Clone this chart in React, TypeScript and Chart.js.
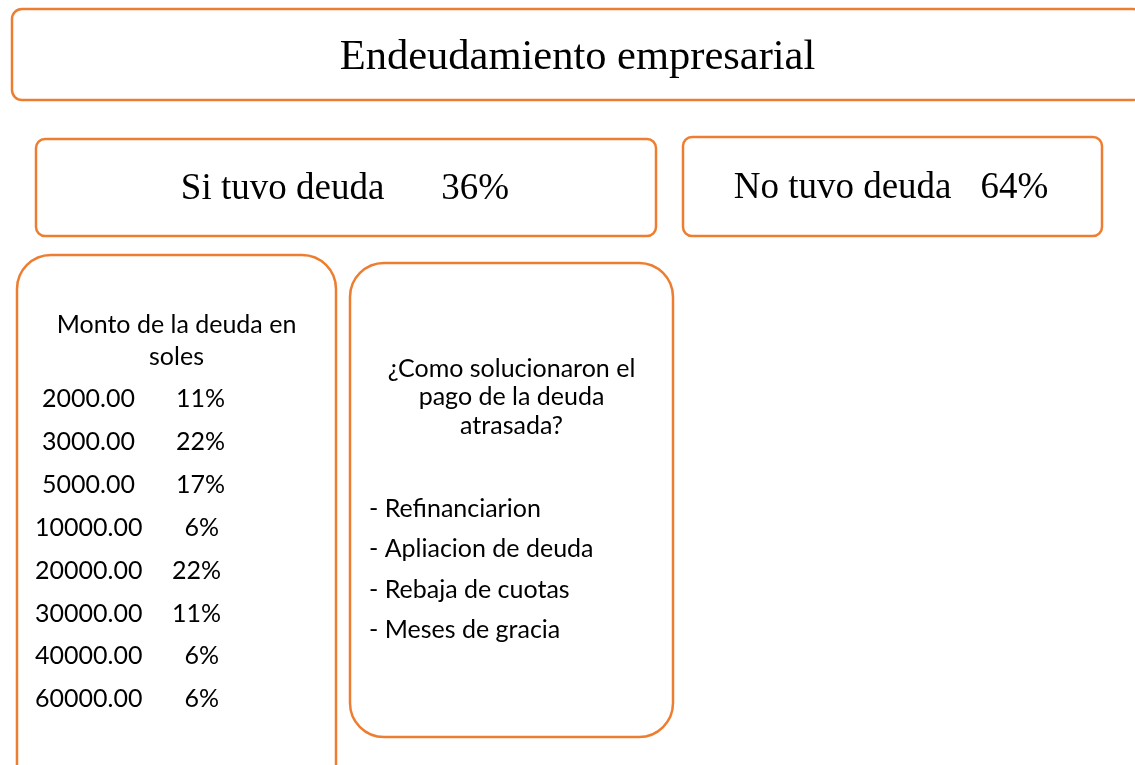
import React, { useEffect, useRef } from "react";
import { Chart, registerables } from "chart.js";

Chart.register(...registerables);

const TITLE = "Endeudamiento empresarial";
const DEBT_LABELS = ["Si tuvo deuda", "No tuvo deuda"];
const DEBT_SHARES = [36, 64];
const AMOUNT_HEADER = ["Monto de la deuda en", "soles"];
const AMOUNTS = [2000, 3000, 5000, 10000, 20000, 30000, 40000, 60000];
const AMOUNT_SHARES = [11, 22, 17, 6, 22, 11, 6, 6];
const SOLUTION_QUESTION = ["¿Como solucionaron el", "pago de la deuda", "atrasada?"];
const SOLUTIONS = ["Refinanciarion", "Apliacion de deuda", "Rebaja de cuotas", "Meses de gracia"];

const W = 1135;
const H = 765;
const ORANGE = "#ED7D31";
const SERIF = "'Liberation Serif', 'Times New Roman', serif";
const SANS = "Lato, 'Noto Sans', sans-serif";

const infographicPlugin = {
  id: "infographic",
  afterDraw(chart: any) {
    const ctx: CanvasRenderingContext2D = chart.ctx;
    const xs = chart.scales.x;
    const ys = chart.scales.y;
    const px = (v: number) => xs.getPixelForValue(v);
    const py = (v: number) => ys.getPixelForValue(v);

    const box = (x0: number, y0: number, x1: number, y1: number, r: number) => {
      ctx.save();
      ctx.beginPath();
      (ctx as any).roundRect(px(x0), py(y0), px(x1) - px(x0), py(y1) - py(y0), r);
      ctx.strokeStyle = ORANGE;
      ctx.lineWidth = 2.5;
      ctx.stroke();
      ctx.restore();
    };

    ctx.save();
    ctx.fillStyle = "#ffffff";
    ctx.fillRect(0, 0, chart.width, chart.height);
    ctx.restore();

    // boxes
    box(12, 9, 1143, 100, 10);
    box(36, 139, 656, 236, 9);
    box(683, 137, 1102, 236, 9);
    box(17, 255, 336, 800, 34);
    box(350, 263, 673, 737, 34);

    ctx.save();
    ctx.fillStyle = "#000000";
    ctx.textBaseline = "alphabetic";

    // title
    ctx.font = `42.5px ${SERIF}`;
    ctx.textAlign = "center";
    ctx.fillText(TITLE, px(577.5), py(69));

    // debt shares
    const pair = (label: string, value: string, cx: number, gap: number, base: number) => {
      ctx.font = `37px ${SERIF}`;
      const wl = ctx.measureText(label).width;
      const wv = ctx.measureText(value).width;
      const total = wl + gap + wv;
      const start = px(cx) - total / 2;
      ctx.textAlign = "left";
      ctx.fillText(label, start, py(base));
      ctx.fillText(value, start + wl + gap, py(base));
    };
    pair(DEBT_LABELS[0], `${DEBT_SHARES[0]}%`, 345, 57, 199);
    pair(DEBT_LABELS[1], `${DEBT_SHARES[1]}%`, 891, 29, 198);

    // amount box
    ctx.font = `25px ${SANS}`;
    ctx.textAlign = "center";
    ctx.fillText(AMOUNT_HEADER[0], px(176.5), py(333));
    ctx.fillText(AMOUNT_HEADER[1], px(176.5), py(365));
    const rowBase = [407, 450, 493, 536, 579, 622, 664, 707];
    AMOUNTS.forEach((a, i) => {
      const big = a >= 10000;
      ctx.textAlign = "left";
      ctx.fillText(a.toFixed(2), px(big ? 35 : 42), py(rowBase[i]));
      ctx.textAlign = "right";
      const pct = AMOUNT_SHARES[i];
      const right = big ? (pct >= 10 ? 221 : 219) : 225;
      ctx.fillText(`${pct}%`, px(right), py(rowBase[i]));
    });

    // solutions box
    ctx.textAlign = "center";
    const qBase = [377, 405, 434];
    SOLUTION_QUESTION.forEach((q, i) => ctx.fillText(q, px(511.5), py(qBase[i])));
    ctx.textAlign = "left";
    const sBase = [517, 557, 598, 638];
    SOLUTIONS.forEach((s, i) => ctx.fillText(`- ${s}`, px(369), py(sBase[i])));

    ctx.restore();
  },
};

export default function App() {
  const ref = useRef<HTMLCanvasElement>(null);
  useEffect(() => {
    document.body.style.margin = "0";
    if (!ref.current) return;
    const chart = new Chart(ref.current, {
      type: "scatter",
      data: { datasets: [{ data: [], showLine: false }] },
      options: {
        responsive: false,
        animation: false,
        layout: { padding: 0 },
        scales: {
          x: { type: "linear", min: 0, max: W, display: false },
          y: { type: "linear", min: 0, max: H, reverse: true, display: false },
        },
        plugins: { legend: { display: false }, tooltip: { enabled: false } },
      },
      plugins: [infographicPlugin],
    });
    return () => chart.destroy();
  }, []);
  return <canvas ref={ref} width={W} height={H} style={{ display: "block" }} />;
}
